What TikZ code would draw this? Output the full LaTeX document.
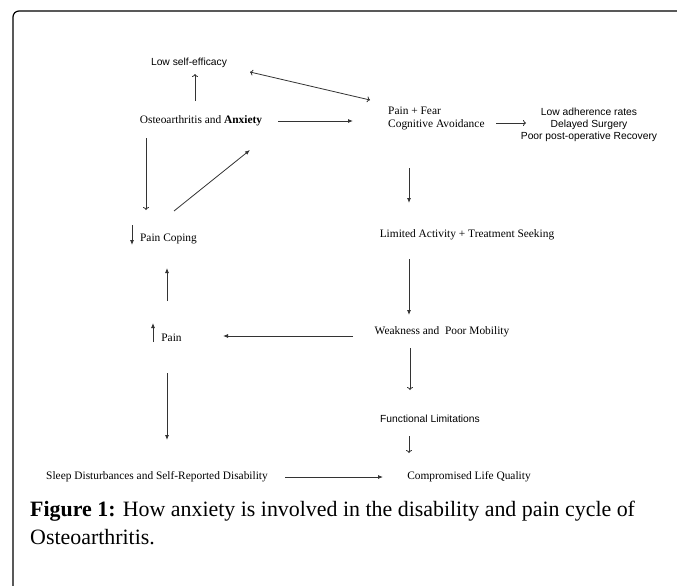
\documentclass[tikz,border=0pt]{standalone}
\usepackage{fontspec}
\setmainfont{Liberation Serif}
\newfontfamily\arialf{Liberation Sans}
\usetikzlibrary{arrows.meta}
\begin{document}
\begin{tikzpicture}[x=1pt,y=-1pt,
  lbl/.style={inner sep=0pt,text height=7.5pt,text depth=2.2pt,font=\fontsize{11.4}{13}\selectfont},
  slbl/.style={inner sep=0pt,text height=7.5pt,text depth=2.2pt,font=\arialf\fontsize{10.3}{12}\selectfont},
  filled/.style={-{Latex[length=5pt,width=4pt]},line width=0.8pt,draw=black!80},
  open/.style={-{To[length=3pt,width=6pt]},line width=0.8pt,draw=black!80},
  openboth/.style={{To[length=3pt,width=6pt]}-{To[length=3pt,width=6pt]},line width=0.8pt,draw=black!80},
  frame/.style={line width=1.2pt,draw=black}]
\useasboundingbox (0,0) rectangle (677,586);
\draw[frame,rounded corners=6pt] (13,586) -- (13,11) -- (677,11);

\node[slbl] (lse) at (189,63) {Low self-efficacy};
\node[lbl] (oa) at (201,121) {Osteoarthritis and \textbf{Anxiety}};
\node[lbl,align=left,anchor=west] (pf) at (388,124.5) {Pain + Fear\\Cognitive Avoidance};
\node[slbl,align=center] (lar) at (589,137) {Low adherence rates\\Delayed Surgery\\Poor post-operative Recovery};
\node[lbl] (lat) at (467,235) {Limited Activity + Treatment Seeking};
\node[lbl] (wpm) at (442,332) {Weakness and\ \ Poor Mobility};
\node[slbl] (fl) at (430,420) {Functional Limitations};
\node[lbl] (clq) at (469,477) {Compromised Life Quality};
\node[lbl] (sd) at (157,477) {Sleep Disturbances and Self-Reported Disability};
\node[lbl] (pc) at (168.5,239) {Pain Coping};
\node[lbl] (pain) at (171.5,339) {Pain};

\draw[open] ([shift={(-6,-20)}]oa.center) -- ([shift={(6,11)}]lse.center);
\draw[openboth] ([shift={(61,9)}]lse.center) -- ([shift={(-18,-24.5)}]pf.west);
\draw[filled] ([shift={(77,0)}]oa.center) -- ([shift={(-35,-3.5)}]pf.west);
\draw[open] ([shift={(108,-1.5)}]pf.west) -- ([shift={(-63,-14)}]lar.center);
\draw[filled] ([shift={(21,43.5)}]pf.west) -- ([shift={(-58,-32)}]lat.center);
\draw[filled] ([shift={(-58,24)}]lat.center) -- ([shift={(-33,-17)}]wpm.center);
\draw[filled] ([shift={(-89,4)}]wpm.center) -- ([shift={(51.5,-3)}]pain.center);
\draw[open] ([shift={(-32,16)}]wpm.center) -- ([shift={(-20,-30)}]fl.center);
\draw[open] ([shift={(-21,16)}]fl.center) -- ([shift={(-60,-24)}]clq.center);
\draw[filled] ([shift={(128,0)}]sd.center) -- ([shift={(-86,0)}]clq.center);
\draw[filled] ([shift={(-4.5,34)}]pain.center) -- ([shift={(10,-37)}]sd.center);
\draw[filled] ([shift={(-4.5,-38)}]pain.center) -- ([shift={(-1.5,29)}]pc.center);
\draw[open] ([shift={(-55,17)}]oa.center) -- ([shift={(-22.5,-29)}]pc.center);
\draw[filled] ([shift={(5.5,-28)}]pc.center) -- ([shift={(49,29)}]oa.center);
\draw[filled] ([shift={(-36.5,-14)}]pc.center) -- ([shift={(-36.5,6)}]pc.center);
\draw[filled] ([shift={(-18.5,3)}]pain.center) -- ([shift={(-18.5,-16)}]pain.center);

\node[inner sep=0pt,anchor=base west,align=left,font=\fontsize{21.9}{28}\selectfont] (cap) at (30,544)
  {\textbf{Figure 1:} How anxiety is involved in the disability and pain cycle of\\Osteoarthritis.};
\end{tikzpicture}
\end{document}
